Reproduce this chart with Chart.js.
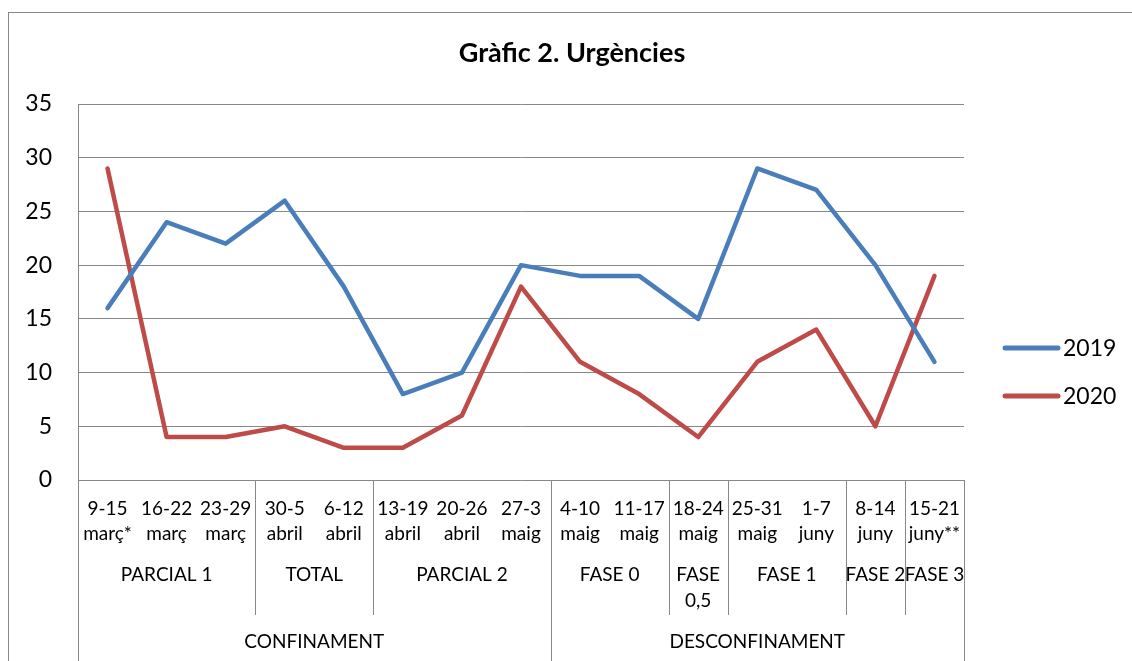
<!DOCTYPE html>
<html>
<head>
<meta charset="utf-8">
<script src="https://cdn.jsdelivr.net/npm/chart.js@4"></script>
<style>
  html, body { margin: 0; padding: 0; background: #fff; }
  #wrap { width: 1132px; height: 661px; }
</style>
</head>
<body>
<div id="wrap"><canvas id="grafic"></canvas></div>
<script>
const setmanes = [
  ["9-15", "març*"], ["16-22", "març"], ["23-29", "març"],
  ["30-5", "abril"], ["6-12", "abril"],
  ["13-19", "abril"], ["20-26", "abril"], ["27-3", "maig"],
  ["4-10", "maig"], ["11-17", "maig"],
  ["18-24", "maig"],
  ["25-31", "maig"], ["1-7", "juny"],
  ["8-14", "juny"],
  ["15-21", "juny**"]
];
const fases = ["PARCIAL 1", "TOTAL", "PARCIAL 2", "FASE 0", ["FASE", "0,5"], "FASE 1", "FASE 2", "FASE 3"];
const fasesSpan = [3, 2, 3, 2, 1, 2, 1, 1];
const periodes = ["CONFINAMENT", "DESCONFINAMENT"];
const periodesSpan = [8, 7];

const urg2019 = [16, 24, 22, 26, 18, 8, 10, 20, 19, 19, 15, 29, 27, 20, 11];
const urg2020 = [29, 4, 4, 5, 3, 3, 6, 18, 11, 8, 4, 11, 14, 5, 19];
const yTicks = [0, 5, 10, 15, 20, 25, 30, 35];

const gris = "#888888";
const font = "Lato, 'Open Sans', sans-serif";

// marc, titol, llegenda i etiquetes agrupades de l'eix x
const extres = {
  id: "extres",
  beforeDraw(chart) {
    const ctx = chart.ctx;
    ctx.save();
    ctx.strokeStyle = gris;
    ctx.lineWidth = 1;
    ctx.strokeRect(8.5, 12.5, 1140, 700);
    ctx.restore();
  },
  afterDraw(chart) {
    const ctx = chart.ctx;
    const x = chart.scales.x;
    const area = chart.chartArea;
    const vora = i => {
      if (i <= 0) return area.left;
      if (i >= setmanes.length) return area.right;
      return (x.getPixelForValue(i - 1) + x.getPixelForValue(i)) / 2;
    };
    ctx.save();
    // titol
    ctx.fillStyle = "#000";
    ctx.font = "bold 27px " + font;
    ctx.textAlign = "center";
    ctx.textBaseline = "middle";
    ctx.fillText("Gràfic 2. Urgències", 572, 53);

    // separadors
    ctx.strokeStyle = gris;
    ctx.lineWidth = 1;
    const linia = (px, y1, y2) => {
      const xx = Math.round(px) + 0.5;
      ctx.beginPath();
      ctx.moveTo(xx, y1);
      ctx.lineTo(xx, y2);
      ctx.stroke();
    };
    let i = 0;
    const limitsPeriode = [0];
    periodesSpan.forEach(s => { i += s; limitsPeriode.push(i); });
    i = 0;
    fasesSpan.forEach((s, k) => {
      if (k > 0 && !limitsPeriode.includes(i)) linia(vora(i), area.bottom, 615);
      i += s;
    });
    limitsPeriode.forEach(b => linia(vora(b), area.bottom, 661));

    // etiquetes de fase
    ctx.fillStyle = "#000";
    ctx.font = "19px " + font;
    i = 0;
    fases.forEach((f, k) => {
      const cx = (vora(i) + vora(i + fasesSpan[k])) / 2;
      const linies = Array.isArray(f) ? f : [f];
      linies.forEach((t, j) => ctx.fillText(t, cx, 575 + j * 26));
      i += fasesSpan[k];
    });
    // etiquetes de periode
    i = 0;
    periodes.forEach((p, k) => {
      const cx = (vora(i) + vora(i + periodesSpan[k])) / 2;
      ctx.fillText(p, cx, 642);
      i += periodesSpan[k];
    });

    // llegenda
    ctx.font = "23px " + font;
    ctx.textAlign = "left";
    chart.data.datasets.forEach((ds, k) => {
      const ly = 348 + k * 48;
      ctx.strokeStyle = ds.borderColor;
      ctx.lineWidth = 5;
      ctx.lineCap = "round";
      ctx.beginPath();
      ctx.moveTo(1005, ly);
      ctx.lineTo(1058, ly);
      ctx.stroke();
      ctx.fillStyle = "#000";
      ctx.fillText(ds.label, 1063, ly + 1);
    });
    ctx.restore();
  }
};

new Chart(document.getElementById("grafic"), {
  type: "line",
  data: {
    labels: setmanes,
    datasets: [
      {
        label: "2019",
        data: urg2019,
        borderColor: "#4A7EBB",
        borderWidth: 4.5,
        pointRadius: 0,
        tension: 0,
        borderCapStyle: "round",
        borderJoinStyle: "round"
      },
      {
        label: "2020",
        data: urg2020,
        borderColor: "#BE4B48",
        borderWidth: 4.5,
        pointRadius: 0,
        tension: 0,
        borderCapStyle: "round",
        borderJoinStyle: "round"
      }
    ]
  },
  options: {
    responsive: true,
    maintainAspectRatio: false,
    animation: false,
    layout: { padding: { top: 104, right: 168, left: 0, bottom: 0 } },
    plugins: {
      legend: { display: false },
      title: { display: false },
      tooltip: { enabled: false }
    },
    scales: {
      x: {
        offset: true,
        grid: { display: false, drawTicks: false, offset: true },
        border: { display: false },
        ticks: {
          autoSkip: false,
          maxRotation: 0,
          minRotation: 0,
          padding: 16,
          color: "#000",
          font: { family: font, size: 19, lineHeight: 1.32 }
        },
        afterFit(scale) { scale.height = 181; }
      },
      y: {
        min: 0,
        max: 35,
        afterBuildTicks(scale) { scale.ticks = yTicks.map(v => ({ value: v })); },
        grid: { color: gris, drawTicks: false, lineWidth: 1 },
        border: { display: true, color: gris },
        ticks: {
          padding: 26,
          color: "#000",
          font: { family: font, size: 23 }
        },
        afterFit(scale) { scale.width = 78; }
      }
    }
  },
  plugins: [extres]
});
</script>
</body>
</html>
